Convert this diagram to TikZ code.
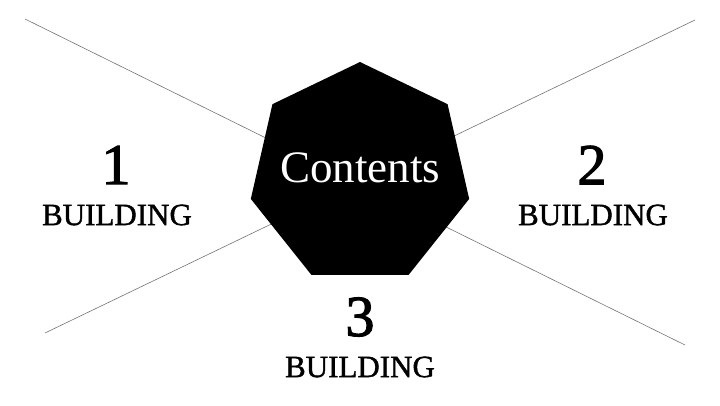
\documentclass[tikz,border=0pt]{standalone}
\usepackage{fontspec}
\setmainfont{Liberation Serif}
\newfontfamily\heavyserif[FakeBold=1.2]{Liberation Serif}
\newfontfamily\numserif[FakeBold=2]{Liberation Serif}
\usetikzlibrary{shapes.geometric}

\begin{document}
\begin{tikzpicture}[x=1pt,y=-1pt,
  bignum/.style={inner sep=0pt,font=\numserif\fontsize{58}{60}\selectfont},
  bldg/.style={inner sep=0pt,font=\heavyserif\fontsize{31}{33}\selectfont},
  cross/.style={draw=black!55,line width=0.6pt}]
\useasboundingbox (0,0) rectangle (720,405);
% crossing lines
\coordinate (tl) at (25,19);
\coordinate (tr) at (695,20);
\coordinate (bl) at (45,333);
\coordinate (br) at (685,345);
\draw[cross] (tl) -- (br);
\draw[cross] (tr) -- (bl);
% heptagon
\node[regular polygon,regular polygon sides=7,minimum size=224pt,
  inner sep=0pt,fill=black] (hept) at (360,174) {};
\node[inner sep=0pt,text=white,font=\fontsize{45}{47}\selectfont] (title) at (360,168) {Contents};
% labels
\node[bignum] (n1) at (116,165) {1};
\node[bldg] (b1) at (117,215) {BUILDING};
\node[bignum] (n2) at (592,165) {2};
\node[bldg] (b2) at (593,215) {BUILDING};
\node[bignum] (n3) at (360,317) {3};
\node[bldg] (b3) at (360,367) {BUILDING};
\end{tikzpicture}
\end{document}
